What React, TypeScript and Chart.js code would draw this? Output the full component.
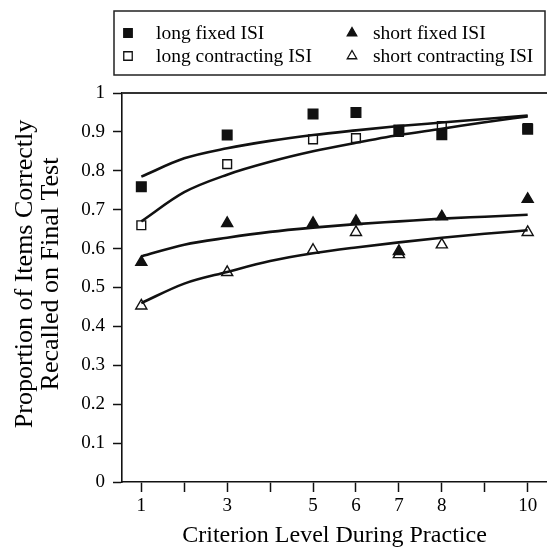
import React, { useEffect, useRef } from 'react';
import { Chart, registerables, Plugin } from 'chart.js';
import { drawPoint } from 'chart.js/helpers';

Chart.register(...registerables);

// observed criterion levels and proportions recalled
const levels = [1, 3, 5, 6, 7, 8, 10];
const longFixed = [0.759, 0.892, 0.946, 0.95, 0.905, 0.893, 0.907];
const longContracting = [0.66, 0.817, 0.881, 0.884, 0.9, 0.915, 0.91];
const shortFixed = [0.565, 0.665, 0.665, 0.67, 0.593, 0.682, 0.727];
const shortContracting = [0.453, 0.539, 0.596, 0.642, 0.585, 0.61, 0.642];

// fitted curves
const fitLevels = [1, 2, 3, 4, 5, 6, 7, 8, 9, 10];
const longFixedFit = [0.785, 0.832, 0.858, 0.877, 0.892, 0.904, 0.915, 0.924, 0.933, 0.942];
const longContractingFit = [0.67, 0.745, 0.79, 0.823, 0.85, 0.872, 0.892, 0.908, 0.925, 0.94];
const shortFixedFit = [0.58, 0.61, 0.628, 0.643, 0.654, 0.663, 0.67, 0.677, 0.682, 0.687];
const shortContractingFit = [0.46, 0.51, 0.54, 0.568, 0.588, 0.603, 0.616, 0.628, 0.638, 0.647];

const xTickLabels = [1, 3, 5, 6, 7, 8, 10];
const yTitle = ['Proportion of Items Correctly', 'Recalled on Final Test'];
const xTitle = 'Criterion Level During Practice';

const SERIF = "'Liberation Serif', 'Times New Roman', serif";

const toPoints = (xs: number[], ys: number[]) => xs.map((x, i) => ({ x, y: ys[i] }));

const frame: Plugin = {
    id: 'frame',
    afterDraw(chart) {
        const { ctx, chartArea } = chart;
        ctx.save();
        // top rule
        ctx.strokeStyle = '#333';
        ctx.lineWidth = 2;
        ctx.beginPath();
        ctx.moveTo(chartArea.left, chartArea.top);
        ctx.lineTo(chart.width, chartArea.top);
        ctx.stroke();

        // y title, two lines
        ctx.fillStyle = '#000';
        ctx.font = `26px ${SERIF}`;
        ctx.textAlign = 'center';
        ctx.textBaseline = 'middle';
        ctx.translate(0, 274);
        ctx.rotate(-Math.PI / 2);
        ctx.fillText(yTitle[0], 0, 25);
        ctx.fillText(yTitle[1], 0, 51);
        ctx.restore();

        // legend box
        ctx.save();
        ctx.strokeStyle = '#222';
        ctx.lineWidth = 1.5;
        ctx.strokeRect(114, 11, 431, 64);
        const spots = [
            { x: 128, y: 33 },
            { x: 128, y: 56 },
            { x: 352, y: 33 },
            { x: 352, y: 56 },
        ];
        const pointSets = chart.data.datasets.filter((d: any) => d.showLine === false);
        ctx.font = `19.5px ${SERIF}`;
        ctx.textBaseline = 'middle';
        ctx.textAlign = 'left';
        pointSets.forEach((d: any, i: number) => {
            const s = spots[i];
            ctx.fillStyle = d.backgroundColor;
            ctx.strokeStyle = d.borderColor;
            ctx.lineWidth = 1.3;
            drawPoint(ctx, { pointStyle: d.pointStyle, radius: d.pointStyle === 'rect' ? 6 : 5.5, borderWidth: 1.3, rotation: 0 } as any, s.x, s.y);
            ctx.fillStyle = '#000';
            ctx.fillText(d.label, s.x + (i < 2 ? 28 : 21), s.y + 1);
        });
        ctx.restore();
    },
};

const App: React.FC = () => {
    const canvasRef = useRef<HTMLCanvasElement>(null);

    useEffect(() => {
        document.body.style.margin = '0';
        if (!canvasRef.current) return;

        const fitLine = (ys: number[]) => ({
            label: '',
            data: toPoints(fitLevels, ys),
            showLine: true,
            borderColor: '#111',
            borderWidth: 2.6,
            pointRadius: 0,
            cubicInterpolationMode: 'monotone' as const,
            fill: false,
        });

        const marks = (label: string, ys: number[], style: string, filled: boolean) => ({
            label,
            data: toPoints(levels, ys),
            showLine: false,
            pointStyle: style,
            pointRadius: style === 'rect' ? (filled ? 6.8 : 6.2) : 6.4,
            pointBorderWidth: 1.4,
            backgroundColor: filled ? '#111' : '#fff',
            borderColor: '#111',
        });

        const chart = new Chart(canvasRef.current, {
            type: 'line',
            data: {
                datasets: [
                    fitLine(longFixedFit),
                    fitLine(longContractingFit),
                    fitLine(shortFixedFit),
                    fitLine(shortContractingFit),
                    marks('long fixed ISI', longFixed, 'rect', true),
                    marks('long contracting ISI', longContracting, 'rect', false),
                    marks('short fixed ISI', shortFixed, 'triangle', true),
                    marks('short contracting ISI', shortContracting, 'triangle', false),
                ] as any,
            },
            options: {
                animation: false,
                responsive: false,
                layout: { autoPadding: false, padding: { top: 93, right: 0, left: 0, bottom: 0 } },
                plugins: {
                    legend: { display: false },
                    tooltip: { enabled: false },
                },
                scales: {
                    x: {
                        type: 'linear',
                        min: 0.55,
                        max: 10.45,
                        afterBuildTicks: (s: any) => {
                            s.ticks = fitLevels.map((v) => ({ value: v }));
                        },
                        afterFit: (s: any) => {
                            s.height = 66;
                            s.paddingRight = 0;
                            s.paddingLeft = 0;
                        },
                        grid: { drawOnChartArea: false, drawTicks: true, tickLength: 10, tickColor: '#111', tickWidth: 1.5 },
                        border: { display: true, color: '#111', width: 1.6 },
                        ticks: {
                            autoSkip: false,
                            maxRotation: 0,
                            padding: 3,
                            color: '#000',
                            font: { family: SERIF, size: 19 },
                            callback: (v: any) => (xTickLabels.includes(Number(v)) ? String(v) : ''),
                        },
                        title: {
                            display: true,
                            text: xTitle,
                            color: '#000',
                            padding: 0,
                            font: { family: SERIF, size: 24, lineHeight: 1 },
                        },
                    },
                    y: {
                        min: 0,
                        max: 1,
                        afterFit: (s: any) => {
                            s.width = 122;
                        },
                        grid: { drawOnChartArea: false, drawTicks: true, tickLength: 9, tickColor: '#111', tickWidth: 1.5 },
                        border: { display: true, color: '#111', width: 1.6 },
                        ticks: {
                            stepSize: 0.1,
                            padding: 8,
                            color: '#000',
                            font: { family: SERIF, size: 19 },
                            callback: (v: any) => String(Math.round(Number(v) * 10) / 10),
                        },
                    },
                },
            },
            plugins: [frame],
        });

        return () => {
            chart.destroy();
        };
    }, []);

    return (
        <div style={{ width: 547, height: 548 }}>
            <canvas
                ref={canvasRef}
                width={547}
                height={548}
                role="img"
                aria-label="Proportion of items correctly recalled on final test by criterion level during practice"
            ></canvas>
        </div>
    );
};

export default App;
